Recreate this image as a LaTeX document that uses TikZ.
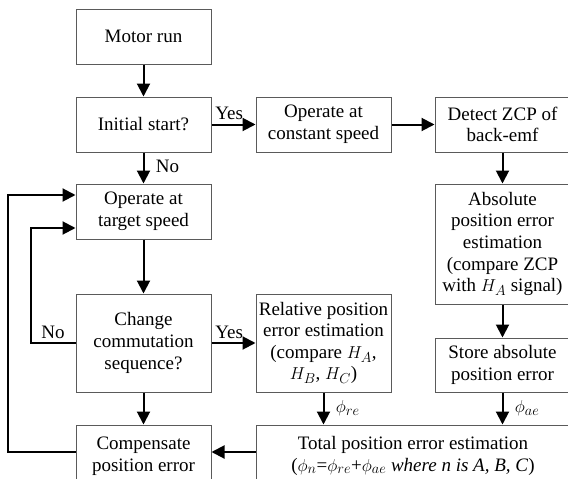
\documentclass[tikz,border=0pt]{standalone}
\usepackage{fontspec}
\setmainfont{Liberation Serif}
\newfontfamily\tnr{Liberation Serif}
\usepackage{tikz}
\usetikzlibrary{arrows.meta,positioning,calc}
\definecolor{boxln}{HTML}{5A5A5A}

\begin{document}
\begin{tikzpicture}[
  x=1pt, y=-1pt,
  box/.style={draw=boxln, line width=1pt, fill=white, minimum width=135pt, minimum height=55pt, inner sep=0pt, align=center, font=\tnr\fontsize{19}{21.6}\selectfont},
  arr/.style={-{Triangle[length=13pt,width=13pt]}, line width=2pt, color=black},
  lbl/.style={font=\tnr\fontsize{19}{21.6}\selectfont},
]
\useasboundingbox (0,0) rectangle (568,479);

% left column
\node[box] (motor) at (143.5, 36.5) {Motor run};
\node[box] (init) at (143.5, 124.5) {Initial start?};
\node[box] (target) at (143.5, 211.5) {Operate at\\target speed};
\node[box, minimum height=98pt] (change) at (143.5, 343) {Change\\commutation\\sequence?};
\node[box, minimum height=62pt] (comp) at (143.5, 456) {Compensate\\position error};

% middle and right columns
\node[box] (const) at (323.5, 124.5) {Operate at\\constant speed};
\node[box] (detect) at (502.5, 124.5) {Detect ZCP of\\back-emf};
\node[box, minimum height=120pt] (abs) at (502.5, 244) {Absolute\\position error\\estimation\\(compare ZCP\\with $H_A$ signal)};
\node[box, minimum height=54pt] (store) at (502.5, 365) {Store absolute\\position error};
\node[box, minimum height=98pt] (rel) at (323.5, 343) {Relative position\\error estimation\\(compare $H_A$,\\$H_B$, $H_C$)};
\node[box, minimum width=314pt, minimum height=62pt] (total) at (413, 456) {Total position error estimation\\($\phi_n$=$\phi_{re}$+$\phi_{ae}$ \textit{where n is A, B, C})};

% flow
\draw[arr] (motor) -- (init);
\draw[arr] (init) -- node[lbl, right=8pt, pos=0.45] {No} (target);
\draw[arr] (init) -- node[lbl, above, pos=0.4] {Yes} (const);
\draw[arr] (const) -- (detect);
\draw[arr] (detect) -- (abs);
\draw[arr] (abs) -- (store);
\draw[arr] (target) -- (change);
\draw[arr] (change) -- node[lbl, above, pos=0.4] {Yes} (rel);
\draw[arr] (change) -- (comp);
\draw[arr] (rel.south) -- node[lbl, right=8pt] {$\phi_{re}$} (rel.south |- total.north);
\draw[arr] (store.south) -- node[lbl, right=8pt] {$\phi_{ae}$} (store.south |- total.north);
\draw[arr] (total.west |- 0,452) -- (comp.east |- 0,452);

% feedback loops
\draw[arr] (change.west) -- node[lbl, above, pos=0.5] {No} ++(-45,0) |- ($(target.west)+(0,16.5)$);
\draw[arr] (comp.west |- 0,452) -- ++(-68,0) |- ($(target.west)+(0,-16.5)$);

\end{tikzpicture}
\end{document}
